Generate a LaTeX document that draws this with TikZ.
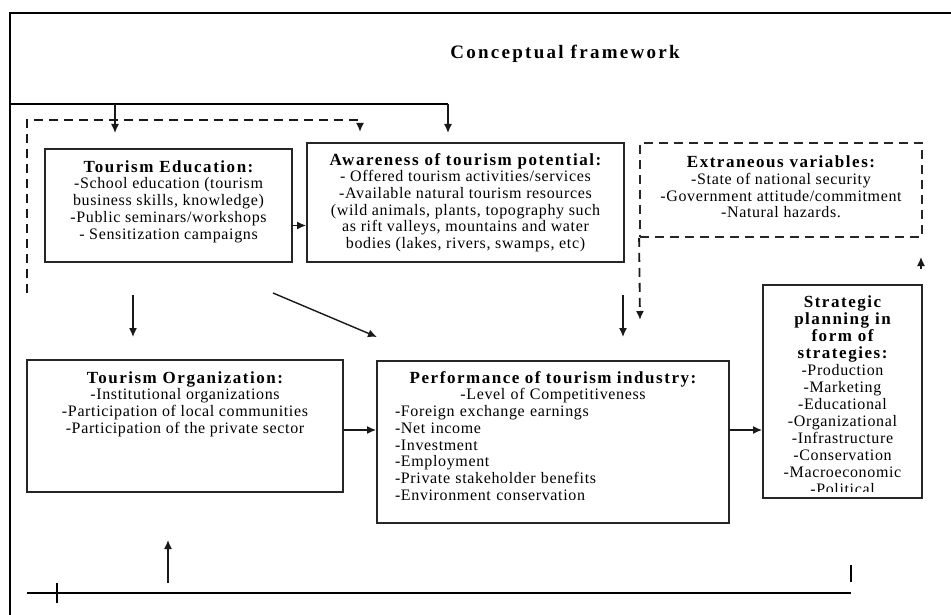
\documentclass[tikz,border=0pt]{standalone}
\usepackage{fontspec}
\setmainfont{Liberation Serif}
\newfontfamily\bodyfont[LetterSpace=4]{Liberation Serif}
\newfontfamily\headfont[LetterSpace=9]{Liberation Serif}
\newfontfamily\titlefont[LetterSpace=12]{Liberation Serif}
\usetikzlibrary{positioning,arrows.meta}

\newcommand\hd[1]{{\headfont\bfseries\fontsize{17}{16.7}\selectfont #1}}

\begin{document}
\begin{tikzpicture}[x=1pt, y=-1pt,
    >={Latex[length=9pt,width=8pt]},
    box/.style={draw=black!85, line width=1.8pt, inner sep=0pt},
    dbox/.style={box, dash pattern=on 9pt off 6pt},
    txt/.style={align=center, inner sep=0pt, font=\bodyfont\fontsize{16}{16.7}\selectfont},
    link/.style={->, line width=1.4pt, draw=black!90}]
    \useasboundingbox (0,0) rectangle (951,615);

    % Frame and title
    \draw[line width=2pt] (951,13) -- (10,13) -- (10,615);
    \node[font=\titlefont\bfseries\fontsize{19}{20}\selectfont] (title) at (565,54) {Conceptual framework};

    % Upper boxes
    \node[box, minimum width=247, minimum height=113] (edu) at (168.5,205.5) {};
    \node[box, minimum width=317, minimum height=119] (aware) at (465.5,202.5) {};
    \node[dbox, minimum width=282, minimum height=94] (extra) at (781,190) {};

    \node[txt, yshift=4pt] (edutext) at (edu) {\hd{Tourism Education:}\\ -School education (tourism\\ business skills, knowledge)\\ -Public seminars/workshops\\ - Sensitization campaigns};
    \node[txt] (awaretext) at (aware) {\hd{Awareness of tourism potential:}\\ - Offered tourism activities/services\\ -Available natural tourism resources\\ (wild animals, plants, topography such\\ as rift valleys, mountains and water\\ bodies (lakes, rivers, swamps, etc)};
    \node[txt, yshift=3pt] (extratext) at (extra) {\hd{Extraneous variables:}\\ -State of national security\\ -Government attitude/commitment\\ -Natural hazards.};

    % Lower boxes
    \node[box, minimum width=316, minimum height=132] (org) at (185,426) {};
    \node[box, minimum width=352, minimum height=162] (perf) at (553,442) {};
    \node[box, minimum width=159, minimum height=213] (strat) at (842.5,391.5) {};

    \node[txt, below=12pt of org.north] (orgtext) {\hd{Tourism Organization:}\\ -Institutional organizations\\ -Participation of local communities\\ -Participation of the private sector};
    \node[txt, text width=316pt, align=left, below=11pt of perf.north] (perftext) {\makebox[\linewidth]{\hd{Performance of tourism industry:}}\\ \makebox[\linewidth]{-Level of Competitiveness}\\ -Foreign exchange earnings\\ -Net income\\ -Investment\\ -Employment\\ -Private stakeholder benefits\\ -Environment conservation};
    \begin{scope}
        \clip (strat.north west) rectangle ([yshift=7pt]strat.south east);
        \node[txt, font=\bodyfont\fontsize{16}{17}\selectfont, below=11pt of strat.north] (strattext) {\hd{Strategic}\\ \hd{planning in}\\ \hd{form of}\\ \hd{strategies:}\\ -Production\\ -Marketing\\ -Educational\\ -Organizational\\ -Infrastructure\\ -Conservation\\ -Macroeconomic\\ -Political};
    \end{scope}

    % Feedback brackets on top
    \coordinate (topL) at (10,104);
    \coordinate (topR) at (448,104);
    \coordinate (eduIn) at (115,133);
    \coordinate (awIn) at (448,133);
    \draw[line width=1.4pt] (topL) -- (topR);
    \draw[link] (eduIn |- topL) -- (eduIn);
    \draw[link] (topR) -- (awIn);

    \coordinate (dashS) at (27,293);
    \coordinate (dashT) at (27,120);
    \coordinate (dashIn) at (360,132);
    \draw[link, line width=1.8pt, dash pattern=on 9pt off 6pt] (dashS) -- (dashT) -- (dashT -| dashIn) -- (dashIn);

    % Arrows between boxes
    \coordinate (eduOut) at ([yshift=-20pt]edu.east);
    \draw[link] (eduOut) -- (eduOut -| aware.west);

    \coordinate (orgA) at (133,295);
    \coordinate (orgB) at (133,337);
    \draw[link] (orgA) -- (orgB);
    \coordinate (diagA) at (273,293);
    \coordinate (diagB) at (377,337);
    \draw[link] (diagA) -- (diagB);
    \coordinate (perfA) at (623,295);
    \coordinate (perfB) at (623,337);
    \draw[link] (perfA) -- (perfB);

    \coordinate (extOut) at (640,320);
    \draw[link, line width=1.8pt, dash pattern=on 9pt off 6pt] (extra.south west) -- (extOut);
    \coordinate (upA) at (921,269);
    \coordinate (upB) at (921,257);
    \draw[link] (upA) -- (upB);

    \coordinate (orgOut) at ([yshift=-4pt]org.east);
    \draw[link] (orgOut) -- (orgOut -| perf.west);
    \coordinate (perfOut) at ([yshift=12pt]perf.east);
    \draw[link] (perfOut) -- (perfOut -| strat.west);

    % Bottom line
    \coordinate (baseL) at (27,593);
    \coordinate (baseR) at (851,593);
    \coordinate (tick) at (57,593);
    \draw[line width=1.8pt] (baseL) -- (baseR);
    \draw[line width=1.8pt] ([yshift=10pt]tick) -- ([yshift=-10pt]tick);
    \draw[line width=1.8pt] ([yshift=11pt]baseR) -- ([yshift=28pt]baseR);
    \coordinate (upC) at (168,583);
    \coordinate (upD) at (168,540);
    \draw[link] (upC) -- (upD);
\end{tikzpicture}
\end{document}
